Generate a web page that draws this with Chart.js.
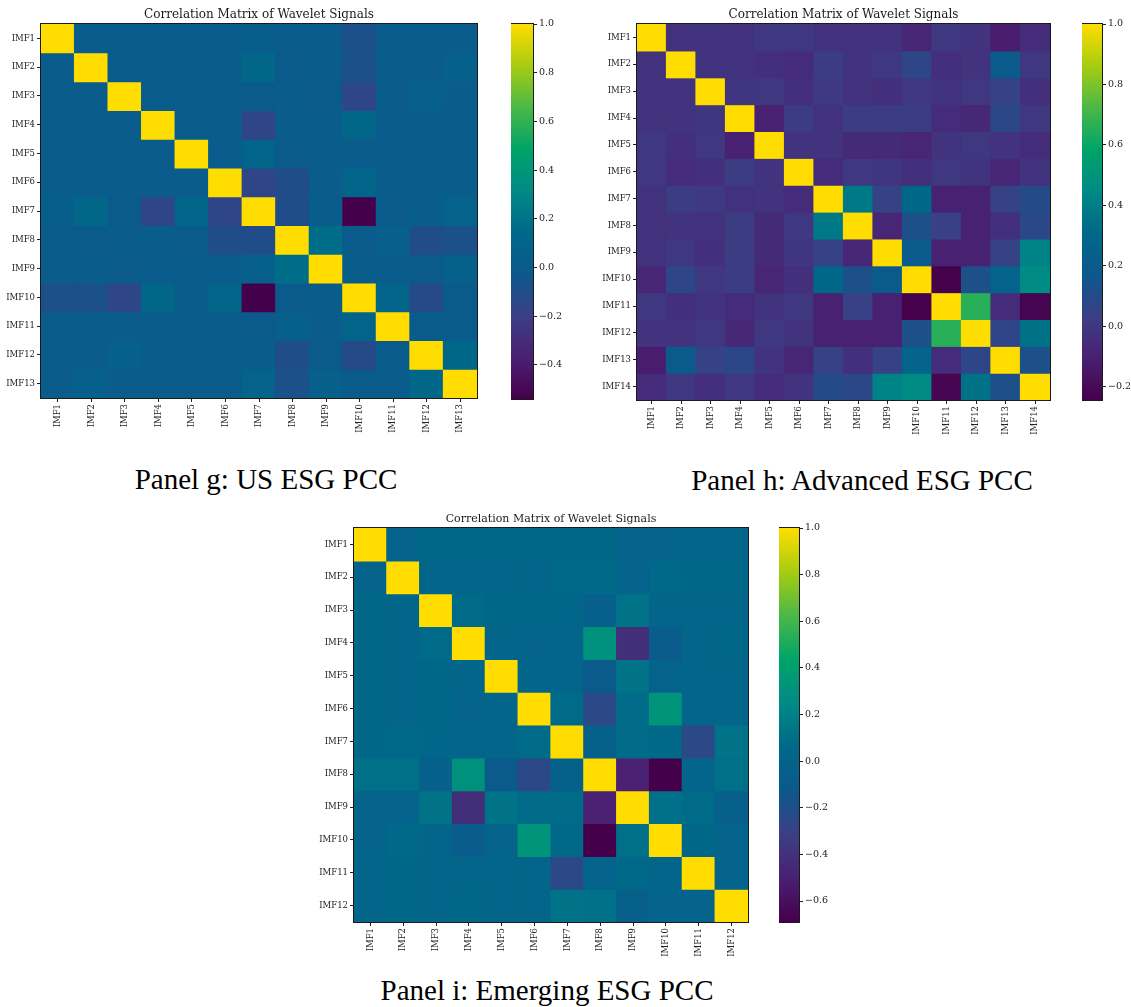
<!DOCTYPE html>
<html>
<head>
<meta charset="utf-8">
<title>Correlation Matrix of Wavelet Signals</title>
<script src="https://cdn.jsdelivr.net/npm/chart.js@4.4.1/dist/chart.umd.min.js"></script>
<style>
    body { margin: 0; background: #fff; width: 1131px; height: 1007px; position: relative; overflow: hidden; }
    canvas { position: absolute; }
    .caption {
        position: absolute;
        font-family: 'Liberation Serif', 'Times New Roman', serif;
        font-size: 29px;
        line-height: 29px;
        color: #000;
        white-space: nowrap;
        transform: translateX(-50%);
    }
</style>
</head>
<body>
<canvas id="usMatrix" width="480" height="438" style="left:0;top:0"></canvas>
<canvas id="usBar" width="62" height="410" style="left:511px;top:0"></canvas>
<canvas id="advMatrix" width="461" height="440" style="left:592px;top:0"></canvas>
<canvas id="advBar" width="49" height="410" style="left:1082px;top:0"></canvas>
<canvas id="emMatrix" width="441" height="462" style="left:310px;top:500px"></canvas>
<canvas id="emBar" width="62" height="432" style="left:779px;top:500px"></canvas>

<div class="caption" style="left:266px;top:465px">Panel g: US ESG PCC</div>
<div class="caption" style="left:862px;top:466px">Panel h: Advanced ESG PCC</div>
<div class="caption" style="left:547px;top:976px">Panel i: Emerging ESG PCC</div>

<script>
// Panel g: US ESG
var usNames = ['IMF1', 'IMF2', 'IMF3', 'IMF4', 'IMF5', 'IMF6', 'IMF7', 'IMF8', 'IMF9', 'IMF10', 'IMF11', 'IMF12', 'IMF13'];
var usCorr = [
    [1, .02, .02, .02, .02, .02, .04, .02, .02, -.08, .02, .02, .02],
    [.02, 1, .02, .02, .02, .02, .12, 0, .02, -.08, .02, .02, .05],
    [.02, .02, 1, .02, .02, .02, 0, .02, 0, -.15, .02, .05, .02],
    [.02, .02, .02, 1, .02, .02, -.15, .02, .02, .12, .02, .02, .02],
    [.02, .02, .02, .02, 1, .02, .1, 0, .02, .02, .02, .02, .02],
    [.02, .02, .02, .02, .02, 1, -.15, -.1, .02, .1, .02, .02, .02],
    [.04, .12, 0, -.15, .1, -.15, 1, -.1, .03, -.54, 0, .03, .08],
    [.02, 0, .02, .02, 0, -.1, -.1, 1, .17, 0, .05, -.1, -.08],
    [.02, .02, 0, .02, .02, .02, .05, .17, 1, .03, .02, 0, .06],
    [-.08, -.08, -.15, .12, .02, .1, -.54, 0, .03, 1, .1, -.12, 0],
    [.02, .02, .02, .02, .02, .02, 0, .05, .02, .1, 1, .01, .01],
    [.02, .02, .05, .02, .02, .02, .03, -.1, 0, -.12, .01, 1, .13],
    [.02, .05, .02, .02, .02, .02, .08, -.08, .06, 0, .01, .13, 1]
];
var usRange = [-0.54, 1];
var usTicks = [1.0, 0.8, 0.6, 0.4, 0.2, 0.0, -0.2, -0.4];

// Panel h: Advanced ESG
var advNames = ['IMF1', 'IMF2', 'IMF3', 'IMF4', 'IMF5', 'IMF6', 'IMF7', 'IMF8', 'IMF9', 'IMF10', 'IMF11', 'IMF12', 'IMF13', 'IMF14'];
var advCorr = [
    [1, -.03, -.02, -.03, 0, 0, -.03, -.03, -.03, -.08, 0, -.02, -.12, -.05],
    [-.03, 1, -.02, -.02, -.04, -.05, .02, -.02, 0, .07, -.04, -.02, .2, 0],
    [-.02, -.02, 1, -.01, 0, -.04, .01, -.03, -.04, 0, -.02, 0, .05, -.04],
    [-.03, -.02, -.01, 1, -.1, .02, -.03, .02, .02, .02, -.05, -.07, .08, 0],
    [0, -.04, 0, -.1, 1, -.02, -.02, -.06, -.06, -.08, -.02, 0, -.02, -.05],
    [0, -.05, -.04, .02, -.02, 1, -.05, 0, -.01, -.04, 0, -.02, -.08, -.02],
    [-.03, .02, .01, -.03, -.02, -.05, 1, .38, .05, .3, -.1, -.1, .05, .1],
    [-.03, -.02, -.03, .02, -.06, 0, .38, 1, -.08, .12, .04, -.1, -.04, .08],
    [-.03, 0, -.04, .02, -.06, -.01, .05, -.08, 1, .2, -.1, -.1, .05, .42],
    [-.08, .07, 0, .02, -.08, -.04, .3, .12, .2, 1, -.24, .12, .27, .45],
    [0, -.04, -.02, -.05, -.02, 0, -.1, .04, -.1, -.24, 1, .66, -.05, -.22],
    [-.02, -.02, 0, -.07, 0, -.02, -.1, -.1, -.1, .12, .66, 1, .07, .35],
    [-.12, .2, .05, .08, -.02, -.08, .05, -.04, .05, .27, -.05, .07, 1, .12],
    [-.05, 0, -.04, 0, -.05, -.02, .1, .08, .42, .45, -.22, .35, .12, 1]
];
var advRange = [-0.243, 1];
var advTicks = [1.0, 0.8, 0.6, 0.4, 0.2, 0.0, -0.2];

// Panel i: Emerging ESG
var emNames = ['IMF1', 'IMF2', 'IMF3', 'IMF4', 'IMF5', 'IMF6', 'IMF7', 'IMF8', 'IMF9', 'IMF10', 'IMF11', 'IMF12'];
var emCorr = [
    [1, 0, .05, .05, .05, .05, .05, .05, 0, 0, .03, .03],
    [0, 1, .03, .03, .03, .03, .06, .06, 0, .06, .05, .05],
    [.05, .03, 1, .08, .05, .05, .04, -.05, .12, .03, .03, .03],
    [.05, .03, .08, 1, .03, 0, .03, .3, -.42, -.08, .03, .05],
    [.05, .03, .05, .03, 1, .03, .03, -.1, .12, 0, .03, .03],
    [.05, .03, .05, 0, .03, 1, .08, -.25, .08, .32, .03, .03],
    [.05, .06, .04, .03, .03, .08, 1, -.02, .08, .06, -.25, .12],
    [.1, .1, -.05, .3, -.1, -.25, -.02, 1, -.5, -.69, .03, .1],
    [0, 0, .12, -.42, .12, .08, .08, -.5, 1, .1, .08, -.03],
    [0, .06, .03, -.08, 0, .32, .06, -.69, .1, 1, .05, 0],
    [.03, .05, .03, .03, .03, .03, -.25, 0, .06, .03, 1, 0],
    [.03, .05, .03, .05, .03, .03, .12, .1, -.03, 0, 0, 1]
];
var emRange = [-0.69, 1];
var emTicks = [1.0, 0.8, 0.6, 0.4, 0.2, 0.0, -0.2, -0.4, -0.6];

// viridis-style colour ramp
var rampStops = ['#45004b', '#4a2072', '#3b3f85', '#0c588c', '#006889', '#008a85', '#00a468', '#4bb848', '#a8cc10', '#ffdd00'];

function hexToRgb(hex) {
    return [parseInt(hex.substr(1, 2), 16), parseInt(hex.substr(3, 2), 16), parseInt(hex.substr(5, 2), 16)];
}

function rampColor(t) {
    t = Math.max(0, Math.min(1, t));
    var pos = t * (rampStops.length - 1);
    var i = Math.min(Math.floor(pos), rampStops.length - 2);
    var f = pos - i;
    var a = hexToRgb(rampStops[i]), b = hexToRgb(rampStops[i + 1]);
    var c = a.map(function (v, k) { return Math.round(v + (b[k] - v) * f); });
    return 'rgb(' + c[0] + ',' + c[1] + ',' + c[2] + ')';
}

function fmtTick(v) {
    return (v < -1e-9 ? '\u2212' : '') + Math.abs(v).toFixed(1);
}

// black outline round the plot area, like matplotlib spines
var frame = {
    id: 'frame',
    afterDatasetsDraw: function (chart) {
        var a = chart.chartArea, ctx = chart.ctx;
        ctx.save();
        ctx.strokeStyle = '#1a1a1a';
        ctx.lineWidth = 1;
        ctx.strokeRect(Math.round(a.left) - 0.5, Math.round(a.top) - 0.5,
            Math.round(a.right - a.left) + 1, Math.round(a.bottom - a.top) + 1);
        ctx.restore();
    }
};

var tickFont = { family: 'DejaVu Serif', size: 8.5 };
var barFont = { family: 'DejaVu Serif', size: 9.5 };

function drawMatrix(id, names, corr, range, yWidth, titleSize, padTop, padBottom) {
    var span = range[1] - range[0];
    // one stacked dataset per row, each cell one unit tall, coloured by its value
    var datasets = corr.map(function (row, i) {
        return {
            label: names[i],
            data: row.map(function () { return 1; }),
            backgroundColor: row.map(function (v) { return rampColor((v - range[0]) / span); }),
            borderWidth: 0,
            inflateAmount: 0.6,
            barPercentage: 1,
            categoryPercentage: 1
        };
    });
    return new Chart(document.getElementById(id), {
        type: 'bar',
        data: { labels: names, datasets: datasets },
        plugins: [frame],
        options: {
            responsive: false,
            animation: false,
            devicePixelRatio: 1,
            layout: { padding: { left: 0, right: 3, top: 0, bottom: 0 } },
            plugins: {
                legend: { display: false },
                tooltip: { enabled: false },
                title: {
                    display: true,
                    text: 'Correlation Matrix of Wavelet Signals',
                    fullSize: false,
                    color: '#1a1a1a',
                    font: { family: 'DejaVu Serif', size: titleSize, weight: 'normal' },
                    padding: { top: padTop, bottom: padBottom }
                }
            },
            scales: {
                x: {
                    stacked: true,
                    grid: { offset: false, drawOnChartArea: false, tickLength: 4, color: '#222' },
                    border: { display: false },
                    ticks: { autoSkip: false, minRotation: 90, maxRotation: 90, padding: 2, color: '#222', font: tickFont },
                    afterFit: function (s) { s.height = 40; }
                },
                y: {
                    type: 'linear',
                    stacked: true,
                    reverse: true,
                    min: 0,
                    max: names.length,
                    grid: { drawOnChartArea: false, tickLength: 4, color: '#222' },
                    border: { display: false },
                    ticks: {
                        autoSkip: false,
                        padding: 2,
                        color: '#222',
                        font: tickFont,
                        callback: function (value) { return names[Math.floor(value)]; }
                    },
                    afterBuildTicks: function (s) {
                        s.ticks = names.map(function (n, i) { return { value: i + 0.5 }; });
                    },
                    afterFit: function (s) { s.width = yWidth; }
                }
            }
        }
    });
}

function drawColorbar(id, range, ticks, axisWidth, padTop, padBottom) {
    return new Chart(document.getElementById(id), {
        type: 'bar',
        data: {
            labels: [''],
            datasets: [{
                data: [[range[0], range[1]]],
                borderWidth: 0,
                barPercentage: 1,
                categoryPercentage: 1,
                backgroundColor: function (context) {
                    var chart = context.chart;
                    if (!chart.chartArea) return 'transparent';
                    var y = chart.scales.y;
                    var g = chart.ctx.createLinearGradient(0, y.getPixelForValue(range[0]), 0, y.getPixelForValue(range[1]));
                    rampStops.forEach(function (c, i) { g.addColorStop(i / (rampStops.length - 1), c); });
                    return g;
                }
            }]
        },
        plugins: [frame],
        options: {
            responsive: false,
            animation: false,
            devicePixelRatio: 1,
            layout: { padding: { left: 0, right: 0, top: padTop, bottom: padBottom } },
            plugins: { legend: { display: false }, tooltip: { enabled: false } },
            scales: {
                x: { display: false },
                y: {
                    position: 'right',
                    min: range[0],
                    max: range[1],
                    grid: { drawOnChartArea: false, tickLength: 4, color: '#222' },
                    border: { display: false },
                    ticks: { padding: 2, color: '#222', font: barFont, callback: fmtTick },
                    afterBuildTicks: function (s) {
                        s.ticks = ticks.map(function (v) { return { value: v }; });
                    },
                    afterFit: function (s) { s.width = axisWidth; }
                }
            }
        }
    });
}

document.addEventListener('DOMContentLoaded', function () {
    drawMatrix('usMatrix', usNames, usCorr, usRange, 41, 12, 7.6, 2);
    drawColorbar('usBar', usRange, usTicks, 40, 24, 11);

    drawMatrix('advMatrix', advNames, advCorr, advRange, 45, 12, 7.6, 2);
    drawColorbar('advBar', advRange, advTicks, 29, 24, 10);

    drawMatrix('emMatrix', emNames, emCorr, emRange, 44, 11, 12.4, 2.4);
    drawColorbar('emBar', emRange, emTicks, 42, 28, 10);
});
</script>
</body>
</html>
